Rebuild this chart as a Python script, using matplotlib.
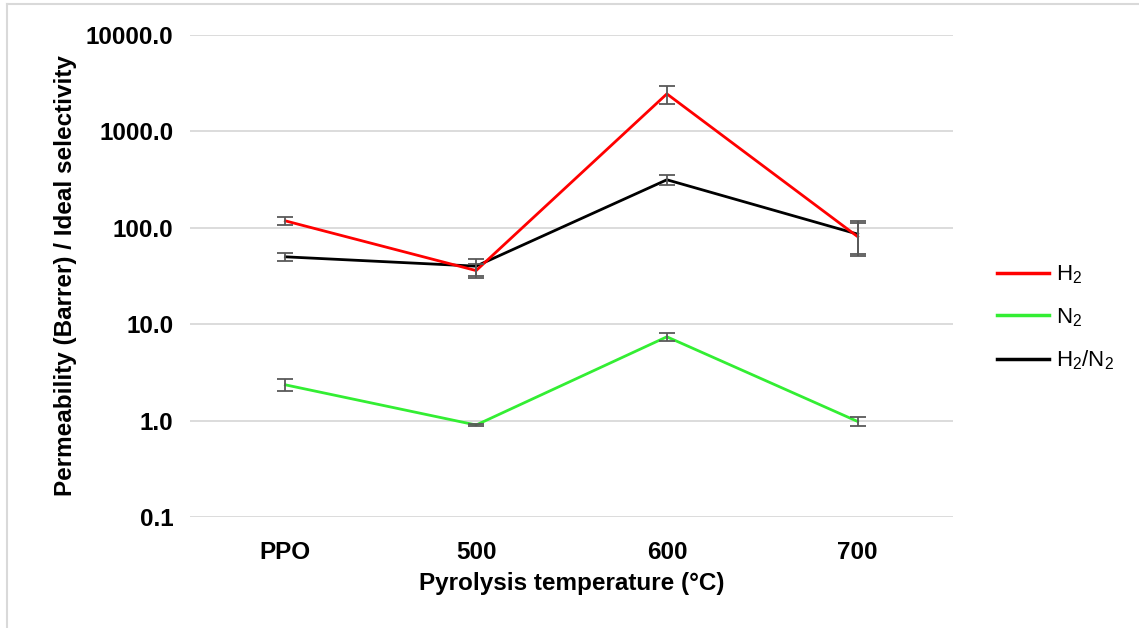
import matplotlib
matplotlib.use("Agg")
import matplotlib.pyplot as plt
from matplotlib.lines import Line2D
import numpy as np

plt.rcParams["font.family"] = ["Liberation Sans", "DejaVu Sans"]
plt.rcParams["mathtext.fontset"] = "custom"
plt.rcParams["mathtext.rm"] = "Liberation Sans"
plt.rcParams["mathtext.it"] = "Liberation Sans:italic"
plt.rcParams["mathtext.bf"] = "Liberation Sans:bold"

# Pyrolysis temperatures
categories = ["PPO", "500", "600", "700"]

# H2 permeability (Barrer)
h2 = [118, 36, 2450, 81]
h2_err = [10, 6, 520, 30]

# N2 permeability (Barrer)
n2 = [2.35, 0.9, 7.4, 0.98]
n2_err = [0.33, 0.02, 0.75, 0.1]

# H2/N2 ideal selectivity
sel = [50, 40, 315, 86]
sel_err = [4.5, 8, 40, 32]

y_ticks = [0.1, 1, 10, 100, 1000, 10000]
y_tick_labels = ["0.1", "1.0", "10.0", "100.0", "1000.0", "10000.0"]

W, H = 1139, 628
fig = plt.figure(figsize=(W / 100, H / 100), dpi=100)
ax = fig.add_axes([190 / W, (H - 517) / H, (953 - 190) / W, (517 - 35) / H])

FS = 17.5

x = np.arange(len(categories))
series = [
    (n2, n2_err, "#33ee33", 2),
    (sel, sel_err, "#000000", 3),
    (h2, h2_err, "#ff0000", 4),
]
for vals, errs, color, z in series:
    ax.plot(x, vals, color=color, lw=2.0, zorder=z, solid_joinstyle="miter")
    ax.errorbar(x, vals, yerr=errs, fmt="none", ecolor="#595959",
                elinewidth=1.3, capsize=5.5, capthick=1.3, zorder=6)

ax.set_yscale("log")
ax.set_ylim(0.1, 10000)
ax.set_xlim(-0.5, len(categories) - 0.5)
ax.set_yticks(y_ticks)
ax.set_yticklabels(y_tick_labels)
ax.minorticks_off()
ax.set_xticks(x)
ax.set_xticklabels(categories)
ax.tick_params(axis="both", length=0, labelsize=FS, colors="#000000")
ax.tick_params(axis="y", pad=12)
ax.tick_params(axis="x", pad=17)
for lab in ax.get_xticklabels() + ax.get_yticklabels():
    lab.set_fontweight("bold")

ax.grid(axis="y", color="#d9d9d9", lw=1.3)
ax.set_axisbelow(True)
for s in ax.spines.values():
    s.set_visible(False)

ax.set_xlabel("Pyrolysis temperature (°C)", fontsize=FS, fontweight="bold", labelpad=6)
ax.set_ylabel("Permeability (Barrer) / Ideal selectivity", fontsize=FS,
              fontweight="bold", labelpad=6)

handles = [
    Line2D([], [], color="#ff0000", lw=2.5),
    Line2D([], [], color="#33ee33", lw=2.5),
    Line2D([], [], color="#000000", lw=2.5),
]
labels = [r"$\mathregular{H_2}$", r"$\mathregular{N_2}$", r"$\mathregular{H_2/N_2}$"]
fig.legend(handles, labels, loc="center left", bbox_to_anchor=(986 / W, (H - 318) / H),
           frameon=False, fontsize=16, handlelength=2.35, handletextpad=0.3,
           labelspacing=0.9, borderpad=0)

# outer chart frame
fig.add_artist(Line2D([7 / W, 1], [(H - 4) / H, (H - 4) / H], color="#d9d9d9", lw=1.5,
                      transform=fig.transFigure))
fig.add_artist(Line2D([7 / W, 7 / W], [0, (H - 4) / H], color="#d9d9d9", lw=1.5,
                      transform=fig.transFigure))

fig.savefig("out.png", dpi=100, facecolor="white")
